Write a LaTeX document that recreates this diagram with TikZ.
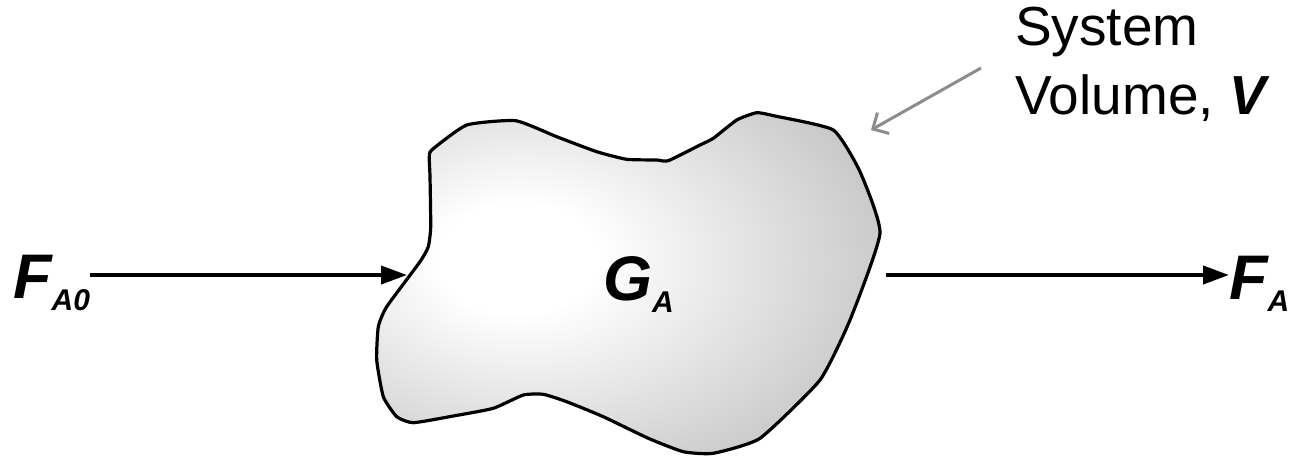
\documentclass[tikz,border=0pt]{standalone}
\usepackage{fontspec}
\setmainfont{Liberation Sans}
\usetikzlibrary{arrows.meta,calc}
\definecolor{arrowgrey}{HTML}{8C8C8C}
\pgfdeclareradialshading{blobshade}{\pgfpoint{-12bp}{4bp}}{%
  color(0bp)=(white);color(8bp)=(white);color(40bp)=(black!26);
  color(65bp)=(black!50);color(100bp)=(black!68)}
\newcommand\bigsym{\fontsize{63}{70}\selectfont\bfseries\itshape}
\newcommand\subsym[1]{\raisebox{-12pt}{\fontsize{30}{32}\selectfont #1}}

\begin{document}
\begin{tikzpicture}[x=1pt,y=-1pt,
  flow/.style={line width=4pt,-{Triangle[length=26pt,width=18pt]}},
  pointer/.style={arrowgrey,line width=3pt,-{Straight Barb[length=12pt,width=24pt]}},
  sym/.style={inner sep=0,anchor=base west,font=\bigsym}]
\useasboundingbox (0,0) rectangle (1289,456);
\shadedraw[shading=blobshade,line width=3.2pt,line join=round]
  plot[smooth cycle,tension=0.3] coordinates {
  (431.7,150) (466.7,125) (515.7,120.7) (556.7,136.7) (596.7,151.7)
  (626.7,159.3) (656.7,160) (668.3,160.7) (700,145) (713.3,138.3)
  (736.7,120) (756.7,112.7) (775,116) (833.3,130) (860,171.7)
  (880,233.3) (850,320) (820,380) (760,438.3) (713.3,453.3)
  (683.3,451.7) (648.3,438.3) (603.3,416.7) (566.7,401.7) (543.3,394.3)
  (523.3,395) (493.3,408.3) (453.3,416) (413.3,422.7) (396.7,416.7)
  (383.3,396.7) (376.7,360) (378.3,326.7) (386.7,306.7) (420,261.7)
  (428.3,246.7) (430.7,226.7) (430,176.7) (429.3,158.3)};
\coordinate (inlet) at (407,275);
\coordinate (outlet) at (886,275);
\coordinate (wall) at (871,130);
\node[sym] (fa0) at (13,298) {F\subsym{A0}};
\node[sym] (ga) at (603,300) {G\subsym{A}};
\node[sym] (fa) at (1229,299) {F\subsym{A}};
\node[inner sep=0,anchor=base west,align=left,font=\fontsize{55}{69}\selectfont]
  (vol) at (1015,114) {System\\Volume, \textbf{\textit{V}}};
\draw[flow] (fa0.east |- inlet) -- (inlet);
\draw[flow] (outlet) -- (fa.west |- outlet);
\draw[pointer] ([xshift=-34pt,yshift=46pt]vol.base west) -- (wall);
\end{tikzpicture}
\end{document}
